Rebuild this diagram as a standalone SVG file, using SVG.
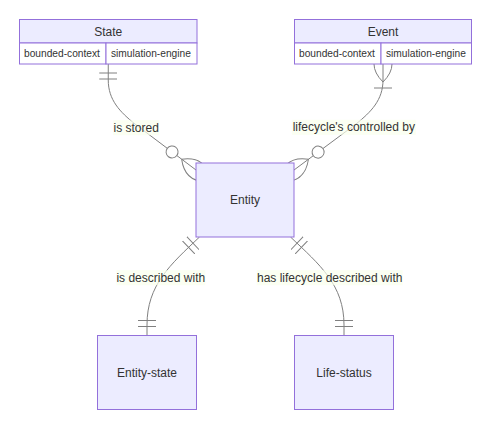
<svg xmlns="http://www.w3.org/2000/svg" width="499" height="436" viewBox="0 0 499 436">
<style>
  .edge { fill: none; stroke: #808080; stroke-width: 1; }
  .mk { fill: none; stroke: #808080; stroke-width: 1; }
  .ent { fill: #ECECFF; stroke: #9370DB; stroke-width: 1; }
  .row { fill: #FFFFFF; stroke: #9370DB; stroke-width: 1; }
  .name { font-family: "Liberation Sans", Arial, sans-serif; font-size: 12px; fill: #333333; text-anchor: middle; dominant-baseline: central; }
  .attr { font-family: "Liberation Sans", Arial, sans-serif; font-size: 10.2px; fill: #333333; dominant-baseline: central; }
  .lbox { fill: hsl(80, 100%, 96.27%); opacity: 0.7; }
  .ltext { font-family: "Liberation Sans", Arial, sans-serif; font-size: 12px; fill: #333333; text-anchor: middle; dominant-baseline: central; }
</style>
<defs>
  <marker id="ONLY_ONE_START" refX="0" refY="9" markerWidth="18" markerHeight="18" orient="auto" markerUnits="userSpaceOnUse">
    <path class="mk" d="M9,0 L9,18 M15,0 L15,18"/>
  </marker>
  <marker id="ONLY_ONE_END" refX="18" refY="9" markerWidth="18" markerHeight="18" orient="auto" markerUnits="userSpaceOnUse">
    <path class="mk" d="M3,0 L3,18 M9,0 L9,18"/>
  </marker>
  <marker id="ZERO_OR_MORE_END" refX="39" refY="18" markerWidth="57" markerHeight="36" orient="auto" markerUnits="userSpaceOnUse">
    <circle cx="9" cy="18" r="6" fill="#FFFFFF" stroke="#808080" stroke-width="1"/>
    <path class="mk" d="M21,18 Q39,0 57,18 Q39,36 21,18"/>
  </marker>
  <marker id="ONE_OR_MORE_START" refX="18" refY="18" markerWidth="45" markerHeight="36" orient="auto" markerUnits="userSpaceOnUse">
    <path class="mk" d="M0,18 Q18,0 36,18 Q18,36 0,18 M42,9 L42,27"/>
  </marker>
</defs>

<g id="connectors">
  <path class="edge" d="M108.25,64 L108.25,80 C108.25,100 120,112 135,124 L196,170" marker-start="url(#ONLY_ONE_START)" marker-end="url(#ZERO_OR_MORE_END)"/>
  <path class="edge" d="M383,64 L383,80 C383,100 371,112 356,124 L294,170" marker-start="url(#ONE_OR_MORE_START)" marker-end="url(#ZERO_OR_MORE_END)"/>
  <path class="edge" d="M199.5,237 C170,265 147,285 147,325 L147,335.5" marker-start="url(#ONLY_ONE_START)" marker-end="url(#ONLY_ONE_END)"/>
  <path class="edge" d="M290.5,237 C320,265 344,285 344,325 L344,335.5" marker-start="url(#ONLY_ONE_START)" marker-end="url(#ONLY_ONE_END)"/>
</g>

<g id="edge-labels">
  <rect class="lbox" x="113.2" y="120.2" width="46" height="15"/>
  <text class="ltext" x="136.2" y="127.7">is stored</text>
  <rect class="lbox" x="291.8" y="119.8" width="124" height="15"/>
  <text class="ltext" x="353.8" y="127.3">lifecycle's controlled by</text>
  <rect class="lbox" x="116.3" y="270.2" width="89" height="15"/>
  <text class="ltext" x="160.8" y="277.7">is described with</text>
  <rect class="lbox" x="256.7" y="270.2" width="146" height="15"/>
  <text class="ltext" x="329.7" y="277.7">has lifecycle described with</text>
</g>

<g id="State">
  <rect class="ent" x="19.5" y="19.5" width="177.5" height="23.5"/>
  <rect class="row" x="19.5" y="43" width="86.5" height="21"/>
  <rect class="row" x="106" y="43" width="91" height="21"/>
  <text class="name" x="108.25" y="31.5">State</text>
  <text class="attr" x="24" y="53.5">bounded-context</text>
  <text class="attr" x="111" y="53.5">simulation-engine</text>
</g>

<g id="Event">
  <rect class="ent" x="294.5" y="19.5" width="177" height="23.5"/>
  <rect class="row" x="294.5" y="43" width="86.5" height="21"/>
  <rect class="row" x="381" y="43" width="90.5" height="21"/>
  <text class="name" x="383" y="31.5">Event</text>
  <text class="attr" x="299" y="53.5">bounded-context</text>
  <text class="attr" x="386" y="53.5">simulation-engine</text>
</g>

<g id="Entity">
  <rect class="ent" x="196" y="163" width="98" height="74"/>
  <text class="name" x="245" y="200">Entity</text>
</g>

<g id="Entity-state">
  <rect class="ent" x="97.5" y="335.5" width="99" height="74"/>
  <text class="name" x="147" y="372.5">Entity-state</text>
</g>

<g id="Life-status">
  <rect class="ent" x="294.5" y="335.5" width="99" height="74"/>
  <text class="name" x="344" y="372.5">Life-status</text>
</g>
</svg>
